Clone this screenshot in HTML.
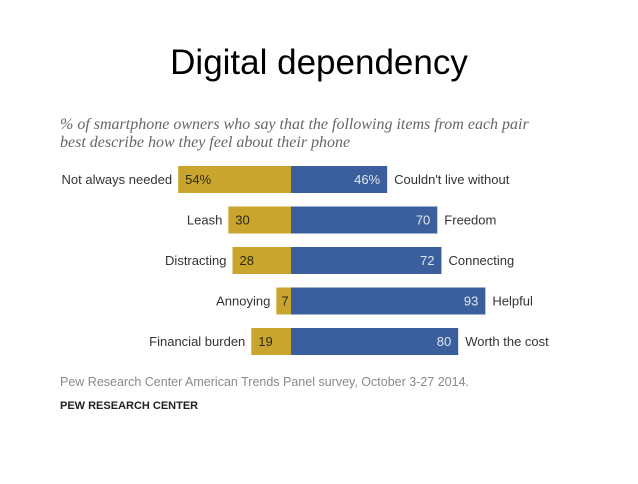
<!DOCTYPE html>
<html><head><meta charset="utf-8"><style>
body{margin:0;background:#fff;width:638px;height:479px;overflow:hidden;font-family:"Liberation Sans",sans-serif}
</style></head><body>
<svg width="638" height="479">
<text x="319" y="74" text-anchor="middle" font-size="35" fill="#000">Digital dependency</text>
<text x="60" y="129" font-family="Liberation Serif" font-style="italic" font-size="16" fill="#666">% of smartphone owners who say that the following items from each pair</text>
<text x="60" y="147" font-family="Liberation Serif" font-style="italic" font-size="16" fill="#666">best describe how they feel about their phone</text>
<g id="bars"></g>
<text x="60" y="386" font-size="12.5" fill="#8a8a8a">Pew Research Center American Trends Panel survey, October 3-27 2014.</text>
<text x="60" y="409" font-size="11" font-weight="bold" fill="#222">PEW RESEARCH CENTER</text>
</svg>
<script>
const leftLabels=["Not always needed","Leash","Distracting","Annoying","Financial burden"];
const rightLabels=["Couldn't live without","Freedom","Connecting","Helpful","Worth the cost"];
const leftValues=[54,30,28,7,19];
const rightValues=[46,70,72,93,80];
const cx=291,sc=2.09,y0=166,step=40.5,bh=27;
const ns="http://www.w3.org/2000/svg",g=document.getElementById('bars');
function mk(t,a){const e=document.createElementNS(ns,t);for(const k in a)e.setAttribute(k,a[k]);g.appendChild(e);return e;}
leftLabels.forEach((l,i)=>{
 const y=y0+i*step,lw=leftValues[i]*sc,rw=rightValues[i]*sc,ty=y+bh/2+4.5;
 let e=mk('rect',{x:cx-lw,y:y,width:lw,height:bh,fill:'#c9a52e'});
 
 
 e=mk('rect',{x:cx,y:y,width:rw,height:bh,fill:'#3a5f9c'});
 
 
 e=mk('text',{x:cx-lw+(leftValues[i]<10?5:7),y:ty,'font-size':13,fill:'#2a2a10'});e.textContent=leftValues[i]+(i==0?'%':'');
 
 
 e=mk('text',{x:cx+rw-7,y:ty,'font-size':13,fill:'#dfe6f2','text-anchor':'end'});e.textContent=rightValues[i]+(i==0?'%':'');
 
 
 e=mk('text',{x:cx-lw-6,y:ty,'font-size':13,fill:'#333','text-anchor':'end'});e.textContent=l;
 
 
 e=mk('text',{x:cx+rw+7,y:ty,'font-size':13,fill:'#333'});e.textContent=rightLabels[i];
 
 
});
</script>
</body></html>
